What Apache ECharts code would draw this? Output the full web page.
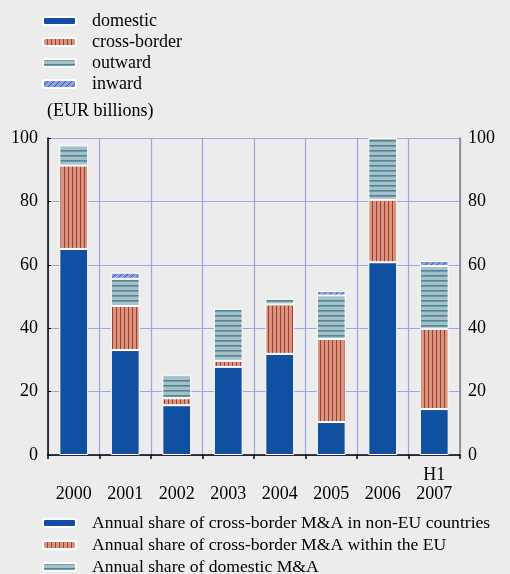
<!DOCTYPE html>
<html>
<head>
<meta charset="utf-8">
<script src="https://cdn.jsdelivr.net/npm/echarts@6/dist/echarts.min.js"></script>
<style>
html,body{margin:0;padding:0;background:#ebeceb;}
#chart{width:510px;height:574px;}
</style>
</head>
<body>
<div id="chart"></div>
<script>
// ---- data ----
const categories = ['2000', '2001', '2002', '2003', '2004', '2005', '2006', 'H1\n2007'];
const domestic    = [65.0, 33.1, 15.7, 27.8, 31.9, 10.4, 60.8, 14.5];
const crossBorder = [26.3, 13.9, 2.2, 1.9, 15.6, 26.2, 19.7, 25.3];
const outward     = [6.3, 8.6, 7.2, 16.4, 1.8, 13.7, 19.5, 19.8];
const inward      = [0.6, 1.9, null, null, null, 1.4, null, 1.6];
const seriesNames = ['domestic', 'cross-border', 'outward', 'inward'];
const bottomLegendNames = {
  'domestic': 'Annual share of cross-border M&A in non-EU countries',
  'cross-border': 'Annual share of cross-border M&A within the EU',
  'outward': 'Annual share of domestic M&A'
};
const yTicks = {min: 0, max: 100, interval: 20};

// ---- patterns ----
function makePattern(w, h, draw) {
  const c = document.createElement('canvas');
  c.width = w; c.height = h;
  const ctx = c.getContext('2d');
  draw(ctx, w, h);
  return {image: c, repeat: 'repeat'};
}
const redPattern = makePattern(4, 4, (ctx, w, h) => {
  ctx.fillStyle = '#d59581'; ctx.fillRect(0, 0, w, h);
  ctx.fillStyle = '#a9392a'; ctx.fillRect(0, 0, 1, h);
});
const tealPattern = makePattern(5, 5, (ctx, w, h) => {
  ctx.fillStyle = '#a9bfc8'; ctx.fillRect(0, 0, w, h);
  ctx.fillStyle = '#4a8797'; ctx.fillRect(0, 0, w, 1);
  ctx.fillStyle = '#6f9aa8'; ctx.fillRect(0, 1, w, 1);
});
const inwardPattern = makePattern(6, 6, (ctx, w, h) => {
  ctx.fillStyle = '#8c9edb'; ctx.fillRect(0, 0, w, h);
  ctx.strokeStyle = '#2e55b8'; ctx.lineWidth = 1;
  ctx.beginPath(); ctx.moveTo(0, h); ctx.lineTo(w, 0); ctx.stroke();
});

const font = 'Liberation Serif';
const colors = ['#1150a0', redPattern, tealPattern, inwardPattern];
const dataSets = [domestic, crossBorder, outward, inward];
const gridColor = '#9ca6e6';

const chart = echarts.init(document.getElementById('chart'));
chart.setOption({
  animation: false,
  backgroundColor: '#ebeceb',
  title: {
    text: '(EUR billions)', left: 47, top: 102, padding: 0,
    textStyle: {fontFamily: font, fontSize: 18, fontWeight: 'normal', color: '#000'}
  },
  legend: [{
    data: seriesNames, orient: 'vertical', left: 42, top: 12, padding: 0,
    itemWidth: 33, itemHeight: 8, itemGap: 3,
    textStyle: {fontFamily: font, fontSize: 18, color: '#000', padding: [0, 0, 0, 11]}
  }, {
    data: ['domestic', 'cross-border', 'outward'], orient: 'vertical', left: 42, top: 514, padding: 0,
    height: 80,
    itemWidth: 33, itemHeight: 8, itemGap: 4,
    formatter: n => bottomLegendNames[n],
    textStyle: {fontFamily: font, fontSize: 17.6, color: '#000', padding: [0, 0, 0, 11]}
  }],
  grid: {left: 48, right: 50, top: 138, bottom: 119},
  xAxis: {
    type: 'category', data: categories, offset: 3,
    axisLine: {lineStyle: {color: '#000', width: 1.5}},
    axisTick: {show: true, length: 4, interval: 0, lineStyle: {color: '#000', width: 1.5}},
    axisLabel: {
      interval: 0, fontFamily: font, fontSize: 18, color: '#000', lineHeight: 19, margin: 8,
      formatter: v => v.indexOf('\n') >= 0 ? v : '\n' + v
    },
    splitLine: {show: true, interval: 0, lineStyle: {color: gridColor, width: 1.2}}
  },
  yAxis: [{
    type: 'value', min: yTicks.min, max: yTicks.max, interval: yTicks.interval,
    axisLine: {show: true, lineStyle: {color: '#000', width: 1.5}},
    axisTick: {show: true, inside: true, length: 3, lineStyle: {color: '#000'}},
    axisLabel: {fontFamily: font, fontSize: 18, color: '#000', margin: 10},
    splitLine: {lineStyle: {color: gridColor, width: 1.2}}
  }, {
    type: 'value', min: yTicks.min, max: yTicks.max, interval: yTicks.interval, position: 'right',
    axisLine: {show: true, lineStyle: {color: '#808080', width: 1.5}},
    axisTick: {show: false},
    axisLabel: {fontFamily: font, fontSize: 18, color: '#000', margin: 8},
    splitLine: {show: false}
  }],
  series: seriesNames.map((name, i) => ({
    name: name, type: 'bar', stack: 'total', barWidth: '56%',
    data: dataSets[i],
    itemStyle: {color: colors[i], borderColor: '#ffffff', borderWidth: 1}
  }))
});
</script>
</body>
</html>
